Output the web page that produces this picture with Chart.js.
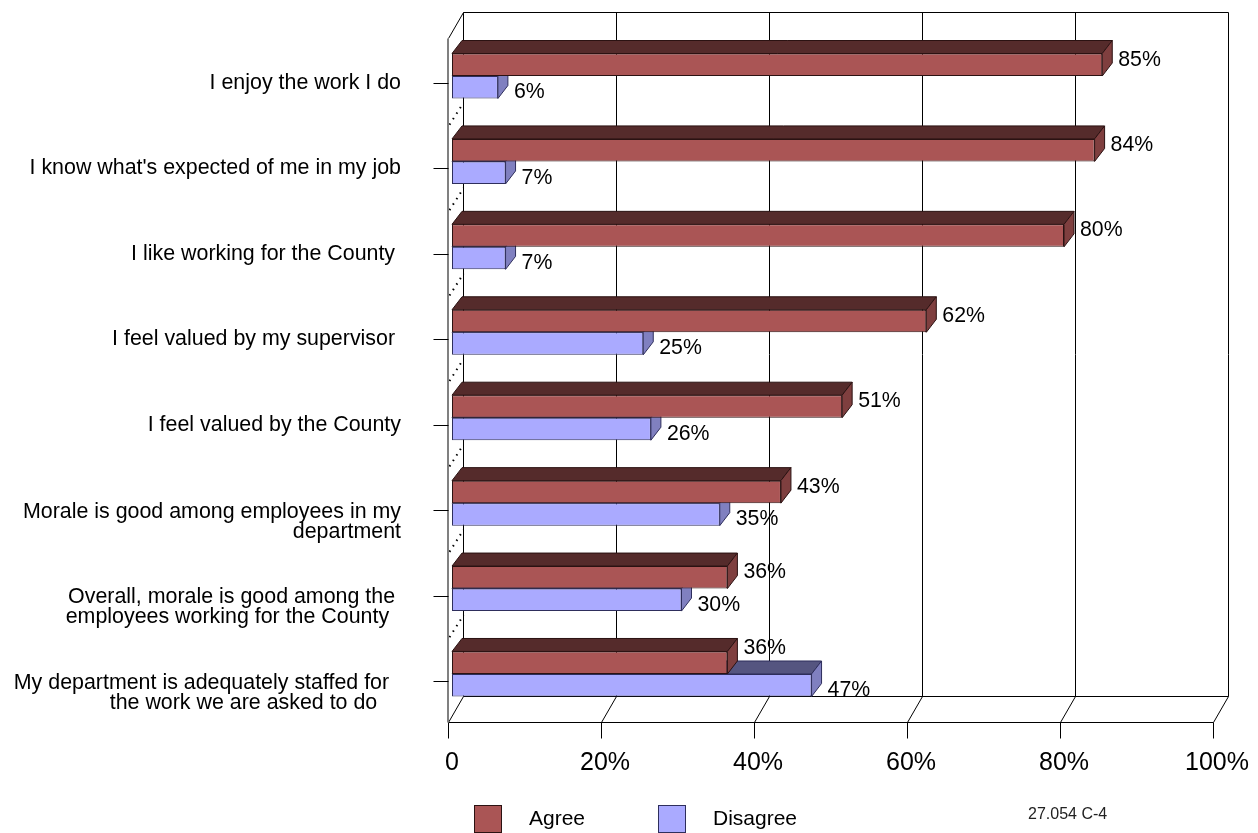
<!DOCTYPE html>
<html>
<head>
<meta charset="utf-8">
<title>Employee survey</title>
<script src="https://cdn.jsdelivr.net/npm/chart.js@4.4.0/dist/chart.umd.min.js"></script>
<style>
  body { margin: 0; background: #fff; }
  #wrap { width: 1258px; height: 833px; }
</style>
</head>
<body>
<div id="wrap"><canvas id="surveyChart" width="1258" height="833"></canvas></div>
<script>
// survey statements, top to bottom (line breaks as in the original)
const statements = [
  ['I enjoy the work I do'],
  ["I know what's expected of me in my job"],
  ['I like working for the County '],
  ['I feel valued by my supervisor '],
  ['I feel valued by the County'],
  ['Morale is good among employees in my', 'department'],
  ['Overall, morale is good among the ', 'employees working for the County  '],
  ['My department is adequately staffed for  ', 'the work we are asked to do    ']
];
const agreeValues = [85, 84, 80, 62, 51, 43, 36, 36];
const disagreeValues = [6, 7, 7, 25, 26, 35, 30, 47];
const xTicks = [0, 20, 40, 60, 80, 100];
const seriesNames = ['Agree', 'Disagree'];
const footNote = '27.054 C-4';

const FONT = '"Liberation Sans", Arial, sans-serif';

// face colours for the fake 3d bars
const faces = [
  { front: '#AA5555', top: '#552B2B', side: '#7F3F3F', edge: '#2b1212' },
  { front: '#AAAAFF', top: '#555580', side: '#8080C0', edge: '#2e2e5c' }
];

// bar depth and box depth (pixels)
const barDX = 10, barDY = 13;
const boxDX = 15, boxDY = 26;

function line(ctx, x1, y1, x2, y2) {
  ctx.beginPath();
  ctx.moveTo(x1, y1);
  ctx.lineTo(x2, y2);
  ctx.stroke();
}

const box3d = {
  id: 'box3d',
  beforeDatasetsDraw(chart) {
    const ctx = chart.ctx;
    const xs = chart.scales.x;
    const ys = chart.scales.y;
    const area = chart.chartArea;
    // front plane sits a bit left/below the bar plane
    const fx = v => Math.round(xs.getPixelForValue(v) - 4) + 0.5;
    const fTop = Math.round(area.top + 5) + 0.5;
    const fBot = Math.round(area.bottom + 5) + 0.5;
    const bTop = fTop - boxDY, bBot = fBot - boxDY;

    ctx.save();
    ctx.strokeStyle = '#000';
    ctx.lineWidth = 1;

    // back wall outline + gridlines
    line(ctx, fx(0) + boxDX, bTop, fx(100) + boxDX, bTop);
    xTicks.forEach(v => {
      if (v > 0) line(ctx, fx(v) + boxDX, bTop, fx(v) + boxDX, bBot);
    });
    line(ctx, fx(0) + boxDX, bTop, fx(0) + boxDX, bBot);
    line(ctx, fx(0) + boxDX, bBot, fx(100) + boxDX, bBot);

    // floor
    line(ctx, fx(0), fBot, fx(100), fBot);
    xTicks.forEach(v => {
      line(ctx, fx(v), fBot, fx(v) + boxDX, bBot);
      line(ctx, fx(v), fBot, fx(v), fBot + 16);
    });

    // left wall
    line(ctx, fx(0), fTop, fx(0) + boxDX, bTop);
    ctx.setLineDash([1.5, 5]);
    ctx.lineWidth = 2;
    for (let i = 1; i < statements.length; i++) {
      const yb = (ys.getPixelForValue(i - 1) + ys.getPixelForValue(i)) / 2 + 6;
      line(ctx, fx(0) + 1, yb, fx(0) + boxDX, yb - boxDY + 4);
    }
    ctx.setLineDash([]);
    ctx.strokeStyle = '#808080';
    ctx.lineWidth = 2;
    line(ctx, fx(0) - 0.5, fTop, fx(0) - 0.5, fBot);

    // category ticks
    ctx.strokeStyle = '#000';
    ctx.lineWidth = 1;
    statements.forEach((s, i) => {
      const y = Math.round(ys.getPixelForValue(i) + 7) + 0.5;
      line(ctx, fx(0) - 15, y, fx(0), y);
    });
    ctx.restore();
  },
  afterDatasetDraw(chart, args) {
    const ctx = chart.ctx;
    const c = faces[args.index];
    ctx.save();
    ctx.lineWidth = 1;
    ctx.strokeStyle = c.edge;
    args.meta.data.forEach(el => {
      const p = el.getProps(['x', 'y', 'base', 'height'], true);
      const top = p.y - p.height / 2, bot = p.y + p.height / 2;
      const left = Math.min(p.base, p.x), right = Math.max(p.base, p.x);
      ctx.fillStyle = c.top;
      ctx.beginPath();
      ctx.moveTo(left, top);
      ctx.lineTo(left + barDX, top - barDY);
      ctx.lineTo(right + barDX, top - barDY);
      ctx.lineTo(right, top);
      ctx.closePath();
      ctx.fill();
      ctx.stroke();
      ctx.fillStyle = c.side;
      ctx.beginPath();
      ctx.moveTo(right, top);
      ctx.lineTo(right + barDX, top - barDY);
      ctx.lineTo(right + barDX, bot - barDY);
      ctx.lineTo(right, bot);
      ctx.closePath();
      ctx.fill();
      ctx.stroke();
    });
    ctx.restore();
  },
  afterDatasetsDraw(chart) {
    const ctx = chart.ctx;
    const ys = chart.scales.y;
    const xs = chart.scales.x;
    const aMeta = chart.getDatasetMeta(0);
    const dMeta = chart.getDatasetMeta(1);
    ctx.save();
    ctx.fillStyle = '#000';
    ctx.textBaseline = 'middle';

    // value labels
    ctx.font = '21.3px ' + FONT;
    ctx.textAlign = 'left';
    statements.forEach((s, i) => {
      const a = aMeta.data[i].getProps(['x', 'y', 'height'], true);
      const d = dMeta.data[i].getProps(['x', 'y', 'height'], true);
      let ay = a.y - 5;
      if (disagreeValues[i] > agreeValues[i]) {
        ay = d.y - d.height / 2 - barDY - 13;
      }
      ctx.fillText(agreeValues[i] + '%', a.x + 16, ay);
      ctx.fillText(disagreeValues[i] + '%', d.x + 16, d.y + 5);
    });

    // category labels
    ctx.font = '21.4px ' + FONT;
    ctx.textAlign = 'right';
    const labelRight = xs.left - 51;
    statements.forEach((lines, i) => {
      const y = ys.getPixelForValue(i) + 7;
      if (lines.length === 1) {
        ctx.fillText(lines[0], labelRight, y);
      } else {
        lines.forEach((t, k) => ctx.fillText(t, labelRight, y + 2 + k * 20));
      }
    });

    // legend
    ctx.font = '21px ' + FONT;
    const legLeft = 474, legStep = 184, legTop = 805;
    ctx.textAlign = 'left';
    seriesNames.forEach((name, i) => {
      const x = legLeft + i * legStep;
      ctx.fillStyle = faces[i].front;
      ctx.fillRect(x, legTop, 28, 28);
      ctx.strokeStyle = faces[i].edge;
      ctx.lineWidth = 1;
      ctx.strokeRect(x + 0.5, legTop + 0.5, 27, 27);
      ctx.fillStyle = '#000';
      ctx.fillText(name, x + 55, 819);
    });

    // footnote
    ctx.font = '16px ' + FONT;
    ctx.fillStyle = '#222';
    ctx.fillText(footNote, 1028, 815);
    ctx.restore();
  }
};

new Chart(document.getElementById('surveyChart').getContext('2d'), {
  type: 'bar',
  data: {
    labels: statements.map(s => s.join(' ').trim()),
    datasets: [{
      label: seriesNames[0],
      data: agreeValues,
      backgroundColor: faces[0].front,
      borderColor: faces[0].edge,
      borderWidth: 1,
      borderSkipped: false
    }, {
      label: seriesNames[1],
      data: disagreeValues,
      backgroundColor: faces[1].front,
      borderColor: faces[1].edge,
      borderWidth: 1,
      borderSkipped: false
    }]
  },
  options: {
    indexAxis: 'y',
    responsive: false,
    animation: false,
    categoryPercentage: 0.527,
    barPercentage: 1.0,
    layout: {
      padding: { top: 33.3, left: 452, right: 41, bottom: 0 }
    },
    scales: {
      x: {
        min: 0,
        max: 100,
        grid: { display: false },
        border: { display: false },
        afterBuildTicks: scale => {
          scale.ticks = xTicks.map(v => ({ value: v }));
        },
        afterFit: scale => {
          scale.height = 116.3;
          scale.paddingLeft = 0;
          scale.paddingRight = 0;
        },
        ticks: {
          padding: 23,
          maxRotation: 0,
          color: '#000',
          font: { family: FONT, size: 25 },
          callback: v => (v === 0 ? '0' : v + '%')
        }
      },
      y: {
        display: false
      }
    },
    plugins: {
      legend: { display: false },
      tooltip: { enabled: false }
    }
  },
  plugins: [box3d]
});
</script>
</body>
</html>
